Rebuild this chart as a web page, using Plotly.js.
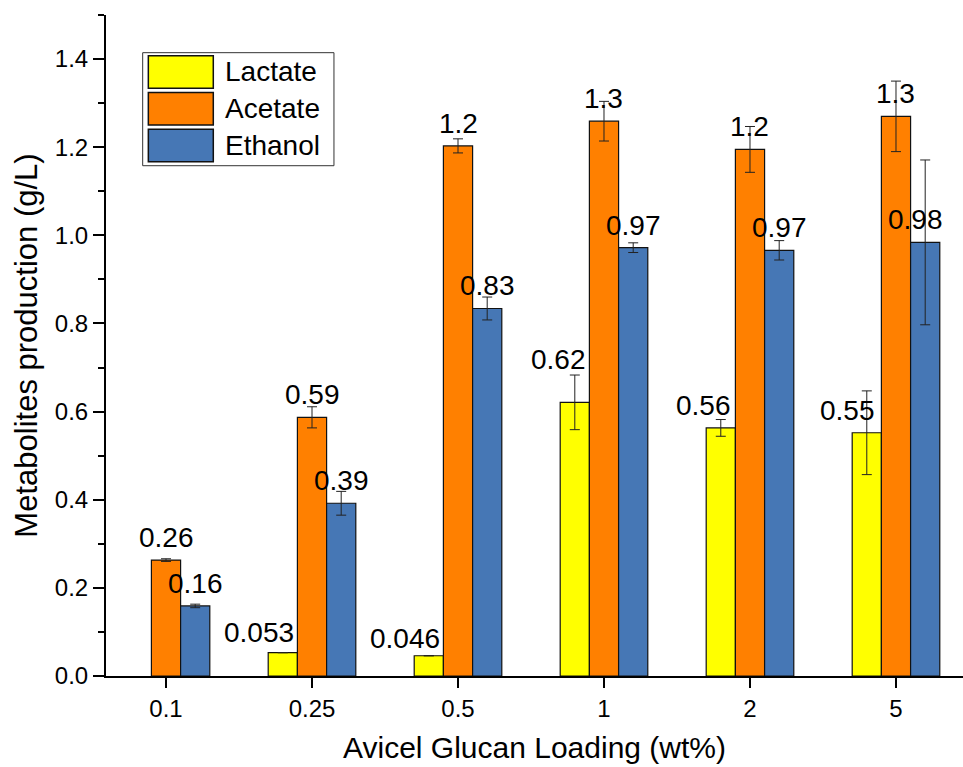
<!DOCTYPE html>
<html>
<head>
<meta charset="utf-8">
<script src="https://cdn.plot.ly/plotly-3.0.1.min.js"></script>
<style>html,body{margin:0;padding:0;background:#fff}#chart{width:963px;height:767px}</style>
</head>
<body>
<div id="chart"></div>
<script>
// ---- data ----
const categories = ["0.1", "0.25", "0.5", "1", "2", "5"];
const lactate    = [null, 0.053, 0.046, 0.621, 0.563, 0.552];
const lactateErr = [0, 0, 0, 0.062, 0.019, 0.095];
const acetate    = [0.263, 0.587, 1.203, 1.259, 1.195, 1.270];
const acetateErr = [0.003, 0.024, 0.016, 0.045, 0.052, 0.080];
const ethanol    = [0.159, 0.392, 0.834, 0.972, 0.966, 0.984];
const ethanolErr = [0.004, 0.027, 0.026, 0.011, 0.022, 0.187];
const seriesNames = ["Lactate", "Acetate", "Ethanol"];

// ---- styles ----
const colors = ["#FFFF00", "#FF8000", "#4677B5"];
const FONT = "Liberation Sans, Arial, sans-serif";
// label pixel nudges (style only)
const labelDx = [[0, -24, -24, -16, -17, -19], [0,0,0,0,0,0], [0,0,0,0,0,-10]];
const labelDy = [[0, -2, -5, 20, 0, 0], [0,0,0,0,0,0], [0,0,0,0,0,0]];

const values = [lactate, acetate, ethanol];
const errs = [lactateErr, acetateErr, ethanolErr];

const traces = values.map((v, k) => ({
  type: "bar",
  name: seriesNames[k],
  x: categories,
  y: v,
  marker: {color: colors[k], line: {color: "#111", width: 1.2}},
  error_y: {type: "data", array: errs[k], visible: true, color: "#222", thickness: 1, width: 5},
  showlegend: false,
  hoverinfo: "x+y"
}));

const annotations = [];
const barW = 0.2;
values.forEach((v, k) => {
  v.forEach((val, i) => {
    if (val === null || val === undefined) return;
    annotations.push({
      x: i + (k - 1) * barW, y: val, xref: "x", yref: "y",
      text: String(Number(val.toPrecision(2))),
      showarrow: false, xanchor: "center", yanchor: "bottom",
      xshift: labelDx[k][i], yshift: 5 + labelDy[k][i],
      font: {family: FONT, size: 28, color: "#000"}
    });
  });
});

// custom legend (paper coords)
const shapes = [{
  type: "rect", xref: "paper", yref: "paper",
  x0: 0.0428, x1: 0.266, y0: 0.772, y1: 0.943,
  line: {color: "#333", width: 1}, fillcolor: "#fff", layer: "above"
}];
const rowTop = [0.9384, 0.8828, 0.8271];
const rowBot = [0.8892, 0.8336, 0.7781];
seriesNames.forEach((n, k) => {
  shapes.push({
    type: "rect", xref: "paper", yref: "paper",
    x0: 0.0494, x1: 0.1252, y0: rowBot[k], y1: rowTop[k],
    line: {color: "#111", width: 1.5}, fillcolor: colors[k], layer: "above"
  });
  annotations.push({
    xref: "paper", yref: "paper", x: 0.1360, y: (rowTop[k] + rowBot[k]) / 2,
    xanchor: "left", yanchor: "middle", showarrow: false, text: n,
    font: {family: FONT, size: 28, color: "#000"}
  });
});

const layout = {
  width: 963, height: 767,
  margin: {l: 106, r: 0, t: 15, b: 91},
  paper_bgcolor: "#fff", plot_bgcolor: "#fff",
  barmode: "group", bargap: 0.4, bargroupgap: 0,
  font: {family: FONT, color: "#000"},
  xaxis: {
    type: "category", range: [-0.411, 5.459],
    showline: true, linecolor: "#000", linewidth: 2,
    ticks: "outside", ticklen: 10, tickwidth: 2, tickcolor: "#000",
    showgrid: false, zeroline: false,
    tickfont: {family: FONT, size: 24, color: "#000"},
    title: {text: "Avicel Glucan Loading (wt%)", font: {family: FONT, size: 30, color: "#000"}, standoff: 16}
  },
  yaxis: {
    range: [0, 1.5], dtick: 0.2, tick0: 0, tickformat: ".1f",
    showline: true, linecolor: "#000", linewidth: 2,
    ticks: "outside", ticklen: 11, tickwidth: 2, tickcolor: "#000",
    minor: {dtick: 0.1, ticks: "outside", ticklen: 6, tickwidth: 2, tickcolor: "#000", showgrid: false},
    showgrid: false, zeroline: false,
    tickfont: {family: FONT, size: 24, color: "#000"},
    title: {text: "Metabolites production (g/L)", font: {family: FONT, size: 31, color: "#000"}, standoff: 8}
  },
  annotations: annotations,
  shapes: shapes
};

Plotly.newPlot("chart", traces, layout, {displayModeBar: false, staticPlot: true});
</script>
</body>
</html>
